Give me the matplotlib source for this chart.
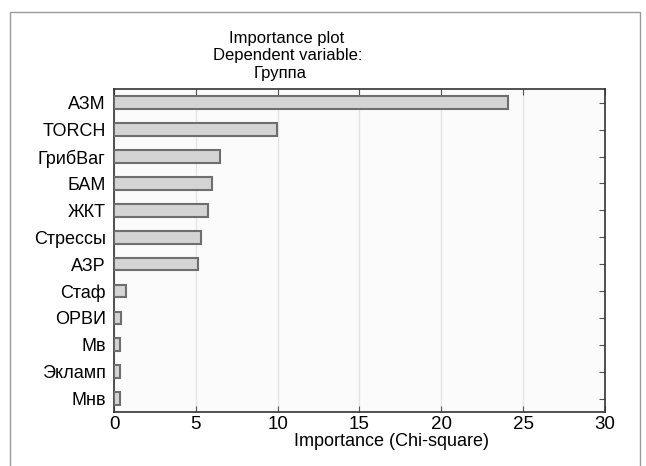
import matplotlib.pyplot as plt
from matplotlib.patches import Rectangle

plt.rcParams['font.family'] = ['Liberation Sans', 'DejaVu Sans']

# Data
variables = ["АЗМ", "TORCH", "ГрибВаг", "БАМ", "ЖКТ", "Стрессы", "АЗР",
             "Стаф", "ОРВИ", "Мв", "Экламп", "Мнв"]
importance = [24.1, 9.95, 6.45, 6.0, 5.75, 5.3, 5.15, 0.75, 0.4, 0.35, 0.35, 0.35]
x_ticks = [0, 5, 10, 15, 20, 25, 30]

fig = plt.figure(figsize=(6.46, 4.66), dpi=100)

# outer frame of the scanned figure
fig.patches.append(Rectangle((0.016, -0.05), 0.975, 1.024, transform=fig.transFigure,
                             fill=False, edgecolor="#9a9a9a", linewidth=1.0))

ax = fig.add_axes([0.1765, 0.1159, 0.760, 0.6925])
ax.set_facecolor("#fbfbfb")

ypos = list(range(len(variables)))
ax.barh(ypos, importance, height=0.47, color="#d4d4d4",
        edgecolor="#6e6e6e", linewidth=1.5, zorder=3)

ax.set_yticks(ypos)
ax.set_yticklabels(variables, fontsize=13)
ax.set_ylim(len(variables) - 0.5, -0.5)

ax.set_xlim(0, 30)
ax.set_xticks(x_ticks)
ax.set_xticklabels([str(t) for t in x_ticks], fontsize=13.5)
ax.xaxis.grid(True, color="#e4e4e4", linewidth=1.0, zorder=0)

ax.tick_params(axis="both", direction="in", length=4, width=0.8, color="#555555",
               top=True, right=True, pad=3)
ax.tick_params(axis="y", pad=6)

for sp in ax.spines.values():
    sp.set_color("#333333")
    sp.set_linewidth(1.2)

ax.set_xlabel("Importance (Chi-square)", fontsize=13, labelpad=1)
ax.xaxis.set_label_coords(0.565, -0.065)

# three-line title, slightly left of the axes centre as in the original
fig.text(0.443, 0.918, "Importance plot", ha="center", va="center", fontsize=12)
fig.text(0.445, 0.881, "Dependent variable:", ha="center", va="center", fontsize=12)
fig.text(0.433, 0.843, "Группа", ha="center", va="center", fontsize=12)

plt.savefig("out.png", dpi=100)
